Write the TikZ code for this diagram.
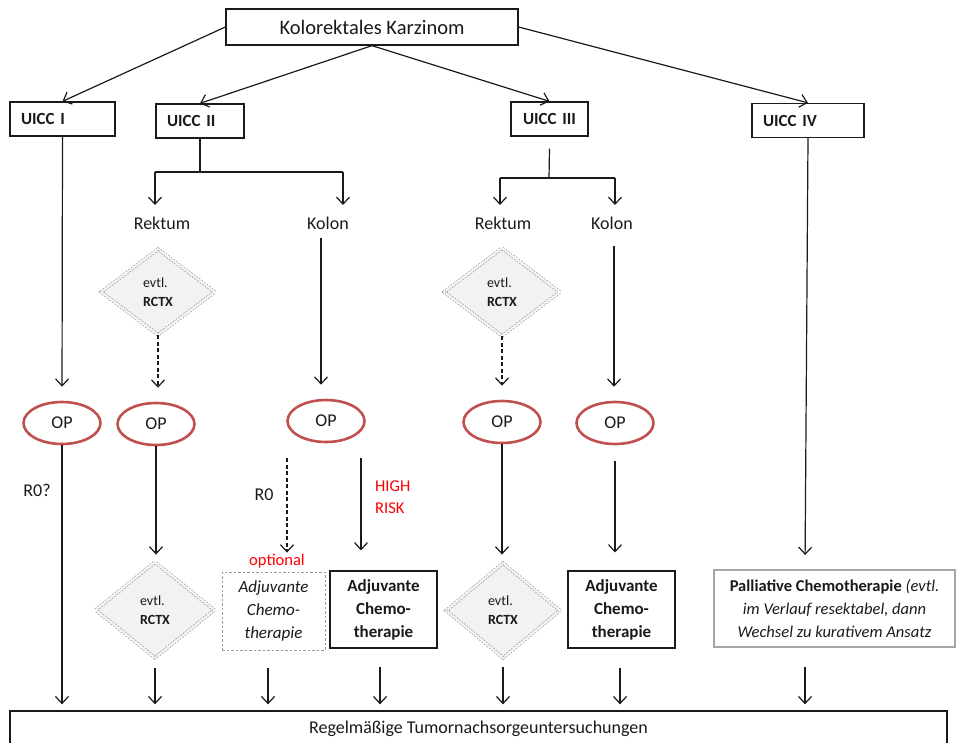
\documentclass[tikz,border=0pt]{standalone}
\usepackage{fontspec}
\setmainfont{Carlito}
\usetikzlibrary{arrows.meta,shapes.geometric}
\definecolor{opred}{HTML}{C0504D}
\definecolor{txt}{HTML}{1A1A1A}
\definecolor{dfill}{HTML}{F2F2F2}
\begin{document}
\begin{tikzpicture}[x=1pt,y=-1pt,
  every node/.style={text=txt},
  arr/.style={-{Straight Barb[length=7pt,width=13pt]}, line width=1.2pt, draw=txt},
  dasharr/.style={arr, dash pattern=on 4pt off 2.5pt},
  plain/.style={draw=txt, line width=1.2pt},
  topbox/.style={draw=txt, line width=1.3pt, minimum width=292, minimum height=36, inner sep=0pt, font=\fontsize{20.5}{24}\selectfont},
  uicc/.style={draw=txt, line width=1.3pt, minimum height=34, inner xsep=11pt, inner ysep=0pt, align=left, font=\bfseries\fontsize{17}{20}\selectfont},
  lbl/.style={inner sep=0pt, font=\fontsize{18}{20}\selectfont},
  rctx/.style={diamond, draw=gray!65, fill=dfill, dash pattern=on 1.8pt off 1.4pt, double=white, double distance=1.8pt, line width=0.9pt, minimum width=114, minimum height=86, inner sep=0pt, align=left, font=\fontsize{14}{19}\selectfont},
  op/.style={ellipse, draw=opred, fill=white, line width=2.6pt, minimum width=77, minimum height=42, inner sep=0pt, font=\fontsize{18}{20}\selectfont},
  adj/.style={draw=txt, line width=1.1pt, minimum width=107, minimum height=77, inner sep=0pt, align=center, font=\bfseries\fontsize{17}{23}\selectfont},
  adjopt/.style={draw=gray!80, dash pattern=on 2.5pt off 2pt, line width=0.8pt, minimum width=103, minimum height=78, inner sep=0pt, align=center, font=\itshape\fontsize{17}{23}\selectfont},
  redlbl/.style={text=red, inner sep=0pt, align=left, font=\fontsize{16.5}{22}\selectfont}
]
\useasboundingbox (0,0) rectangle (961,742);
\clip (0,0) rectangle (961,742);

% top level
\node[topbox] (top) at (372,27) {Kolorektales Karzinom};
\node[uicc, text width=83] (u1) at (62.5,119) {UICC I};
\node[uicc, text width=66] (u2) at (200,121) {UICC II};
\node[uicc, text width=55, align=center] (u3) at (549.5,119) {UICC III};
\node[uicc, text width=90] (u4) at (808,120.5) {UICC IV};

\draw[arr] (top.west) -- (u1.north);
\draw[arr] (top.south) -- (u2.north);
\draw[arr] (top.south) -- (u3.north);
\draw[arr] (top.east) -- (u4.north);

% bottom box
\node[draw=txt, line width=1.3pt, minimum width=937, minimum height=36, inner sep=0pt, font=\fontsize{18}{20}\selectfont] (bot) at (478.5,729) {Regelmäßige Tumornachsorgeuntersuchungen};

% ---------- UICC I
\node[op] (op1) at (62,423) {OP};
\draw[arr, shorten >=14pt] (u1.south) -- (op1.north);
\draw[arr, shorten >=6pt] (op1.south) -- (op1.south |- bot.north);
\node[lbl] (r0q) at (37,490) {R0?};

% ---------- UICC II
\coordinate (j2) at (200,172);
\coordinate (j2l) at (155,172);
\coordinate (j2r) at (343,172);
\coordinate (a2l) at (155,205);
\coordinate (a2r) at (343,205);
\draw[plain] (u2.south) -- (j2);
\draw[plain] (j2l) -- (j2r);
\draw[arr] (j2l) -- (a2l);
\draw[arr] (j2r) -- (a2r);
\node[lbl] (rek2) at (162,223) {Rektum};
\node[lbl] (kol2) at (328,223) {Kolon};

\node[rctx] (d1) at (158,292) {evtl.\\\textbf{RCTX}};
\node[op] (op2) at (156,424) {OP};
\draw[dasharr, shorten >=14pt] (d1.south) -- (d1.south |- op2.north);
\node[rctx, minimum width=119, minimum height=96] (d2) at (155,610) {evtl.\\\textbf{RCTX}};
\draw[arr, shorten >=7pt] (op2.south) -- (op2.south |- d2.north);
\draw[arr, shorten >=6pt] ([yshift=-10pt]d2.south) -- (d2.south |- bot.north);

\node[op] (op3) at (326,421) {OP};
\draw[arr, shorten >=14pt] ([xshift=-7pt,yshift=-8pt]kol2.south) -- ([xshift=-5pt]op3.north);
\node[adjopt] (adj1) at (273.5,611) {Adjuvante\\Chemo-\\therapie};
\node[adj] (adj2) at (383.5,609.5) {Adjuvante\\Chemo-\\therapie};
\node[redlbl] (opt) at (277,561) {optional};
\coordinate (s3l) at (287,458);
\coordinate (s3r) at (361,458);
\draw[dasharr, shorten >=19pt] (s3l) -- (s3l |- adj1.north);
\draw[arr, shorten >=20pt] (s3r) -- (s3r |- adj2.north);
\node[lbl] (r0) at (264,495) {R0};
\node[redlbl, anchor=west] (hr) at (375,497) {HIGH\\RISK};
\draw[arr, shorten >=6pt] ([xshift=-5.5pt,yshift=-18pt]adj1.south) -- ([xshift=-5.5pt]adj1.south |- bot.north);
\draw[arr, shorten >=6pt] ([xshift=-3.5pt,yshift=-18pt]adj2.south) -- ([xshift=-3.5pt]adj2.south |- bot.north);

% ---------- UICC III
\coordinate (j3) at (549,178);
\coordinate (j3l) at (500,178);
\coordinate (j3r) at (615,178);
\coordinate (a3l) at (500,205);
\coordinate (a3r) at (615,205);
\draw[plain] ([yshift=-12pt]u3.south) -- (j3);
\draw[plain] (j3l) -- (j3r);
\draw[arr] (j3l) -- (a3l);
\draw[arr] (j3r) -- (a3r);
\node[lbl] (rek3) at (503,223) {Rektum};
\node[lbl] (kol3) at (612,223) {Kolon};

\node[rctx, minimum width=116, minimum height=88] (d3) at (502,292) {evtl.\\\textbf{RCTX}};
\node[op] (op4) at (502,422) {OP};
\draw[dasharr, shorten >=14pt] (d3.south) -- (d3.south |- op4.north);
\node[rctx, minimum width=114, minimum height=95] (d4) at (503,610.5) {evtl.\\\textbf{RCTX}};
\draw[arr, shorten >=8pt] (op4.south) -- (op4.south |- d4.north);
\draw[arr, shorten >=6pt] ([yshift=-9pt]d4.south) -- (d4.south |- bot.north);

\node[op] (op5) at (615,423) {OP};
\draw[arr, shorten >=14pt] ([xshift=2pt,yshift=-16pt]kol3.south) -- ([xshift=-1pt]op5.north);
\node[adj] (adj3) at (621.5,609.5) {Adjuvante\\Chemo-\\therapie};
\draw[arr, shorten >=18pt] ([yshift=-16pt]op5.south) -- ([yshift=0pt]op5.south |- adj3.north);
\draw[arr, shorten >=6pt] ([xshift=-1.5pt,yshift=-19pt]adj3.south) -- ([xshift=-1.5pt]adj3.south |- bot.north);

% ---------- UICC IV
\node[draw=gray!70, line width=1.3pt, minimum width=241, minimum height=77, inner sep=0pt, align=center, font=\fontsize{16.5}{23}\selectfont] (pall) at (834.5,608.5)
  {\textbf{Palliative Chemotherapie} \textit{(evtl.}\\\textit{im Verlauf resektabel, dann}\\\textit{Wechsel zu kurativem Ansatz}};
\coordinate (p4) at (805,570);
\draw[arr, shorten >=15pt] (u4.south) -- (p4);
\coordinate (q4) at (805,667);
\draw[arr, shorten >=6pt] (q4) -- (q4 |- bot.north);
\end{tikzpicture}
\end{document}
